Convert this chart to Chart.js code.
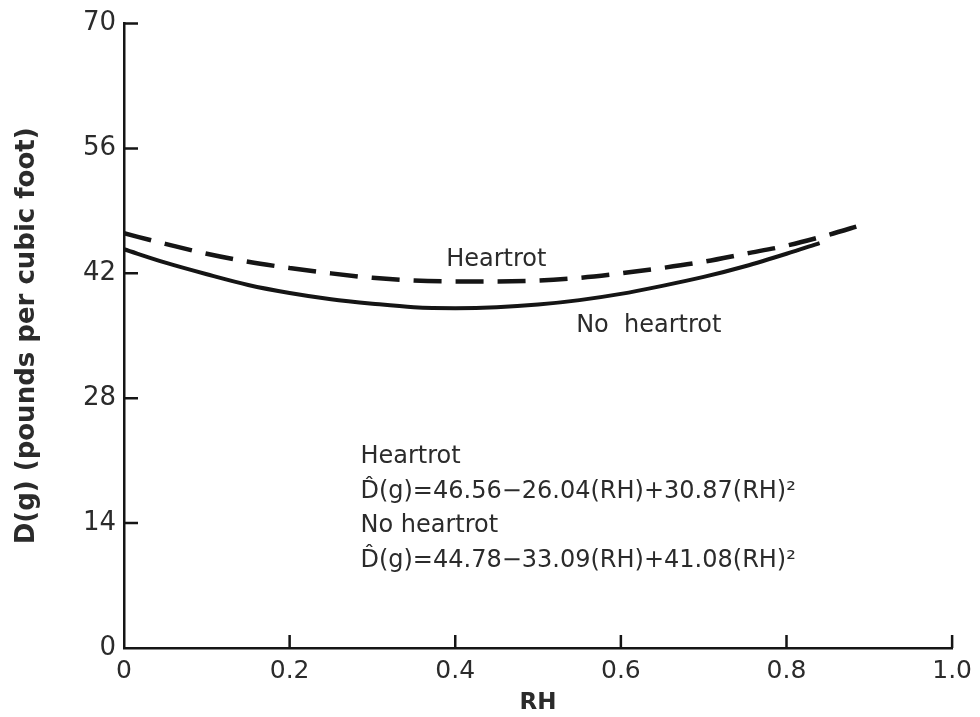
<!DOCTYPE html>
<html>
<head>
<meta charset="utf-8">
<title>D(g) vs RH</title>
<script src="https://cdn.jsdelivr.net/npm/chart.js@4.4.1/dist/chart.umd.min.js"></script>
<style>
  html, body { margin: 0; padding: 0; background: #fff; }
  #wrap { width: 980px; height: 717px; position: relative; }
</style>
</head>
<body>
<div id="wrap"><canvas id="chart"></canvas></div>
<script>
    // values
    var rhHeartrot = [0, 0.05, 0.1, 0.15, 0.2, 0.25, 0.3, 0.35, 0.4, 0.45, 0.5, 0.55, 0.6, 0.65, 0.7, 0.75, 0.8, 0.85, 0.89];
    var heartrot = [46.5, 45.3, 44.2, 43.3, 42.6, 42.0, 41.5, 41.2, 41.1, 41.1, 41.2, 41.5, 42.0, 42.6, 43.3, 44.2, 45.1, 46.3, 47.4];

    var rhNoHeartrot = [0, 0.05, 0.1, 0.15, 0.2, 0.25, 0.3, 0.35, 0.4, 0.45, 0.5, 0.55, 0.6, 0.65, 0.7, 0.75, 0.8, 0.84];
    var noHeartrot = [44.7, 43.2, 41.9, 40.7, 39.8, 39.1, 38.6, 38.2, 38.1, 38.2, 38.5, 39.0, 39.7, 40.6, 41.6, 42.8, 44.2, 45.4];

    var xTicks = [0, 0.2, 0.4, 0.6, 0.8, 1.0];
    var yTicks = [0, 14, 28, 42, 56, 70];

    // text placed in data units: [RH, D(g), text]
    var notes = [
        [0.389, 42.8, 'Heartrot'],
        [0.546, 35.45, 'No  heartrot'],
        [0.2855, 20.7, 'Heartrot'],
        [0.2855, 16.8, 'D\u0302(g)=46.56\u221226.04(RH)+30.87(RH)\u00b2'],
        [0.2855, 13.0, 'No heartrot'],
        [0.2855, 9.1, 'D\u0302(g)=44.78\u221233.09(RH)+41.08(RH)\u00b2']
    ];

    function toPoints(xs, ys) {
        return xs.map(function(x, i) { return { x: x, y: ys[i] }; });
    }

    var ink = '#151515';
    var textColor = '#2b2b2b';

    // tick marks point into the plot, so draw them ourselves
    var innerTicks = {
        id: 'innerTicks',
        afterDraw: function(chart) {
            var ctx = chart.ctx;
            var xs = chart.scales.x, ys = chart.scales.y;
            ctx.save();
            ctx.strokeStyle = ink;
            ctx.lineWidth = 2.5;
            ctx.beginPath();
            xTicks.forEach(function(v) {
                if (v === 0) return;
                var px = xs.getPixelForValue(v);
                ctx.moveTo(px, ys.bottom);
                ctx.lineTo(px, ys.bottom - 13);
            });
            yTicks.forEach(function(v) {
                if (v === 0) return;
                var py = ys.getPixelForValue(v);
                ctx.moveTo(xs.left, py);
                ctx.lineTo(xs.left + 14, py);
            });
            ctx.stroke();

            ctx.fillStyle = textColor;
            ctx.font = '24px "DejaVu Sans"';
            ctx.textAlign = 'left';
            ctx.textBaseline = 'alphabetic';
            notes.forEach(function(n) {
                ctx.fillText(n[2], xs.getPixelForValue(n[0]), ys.getPixelForValue(n[1]));
            });
            ctx.restore();
        }
    };

    var ctx = document.getElementById('chart').getContext('2d');
    var chart = new Chart(ctx, {
        type: 'scatter',
        data: {
            datasets: [{
                label: 'Heartrot',
                data: toPoints(rhHeartrot, heartrot),
                showLine: true,
                borderColor: ink,
                borderWidth: 4.5,
                borderDash: [28, 14],
                pointRadius: 0,
                cubicInterpolationMode: 'monotone',
                fill: false
            }, {
                label: 'No heartrot',
                data: toPoints(rhNoHeartrot, noHeartrot),
                showLine: true,
                borderColor: ink,
                borderWidth: 4,
                pointRadius: 0,
                cubicInterpolationMode: 'monotone',
                fill: false
            }]
        },
        options: {
            responsive: true,
            maintainAspectRatio: false,
            animation: false,
            layout: { padding: { left: 0, right: 26, top: 20, bottom: 0 } },
            plugins: {
                legend: { display: false },
                tooltip: { enabled: false }
            },
            scales: {
                x: {
                    type: 'linear',
                    min: 0,
                    max: 1,
                    afterBuildTicks: function(scale) {
                        scale.ticks = xTicks.map(function(v) { return { value: v }; });
                    },
                    afterFit: function(scale) { scale.height = 69; },
                    ticks: {
                        color: textColor,
                        font: { family: 'DejaVu Sans', size: 25 },
                        padding: 8,
                        maxRotation: 0,
                        callback: function(v) { return v === 0 ? '0' : Number(v).toFixed(1); }
                    },
                    grid: { drawOnChartArea: false, drawTicks: false },
                    border: { color: ink, width: 2.5 },
                    title: {
                        display: true,
                        text: 'RH',
                        color: textColor,
                        font: { family: 'DejaVu Sans', size: 23, weight: 'bold', lineHeight: 1.2 },
                        padding: { top: 0, bottom: 0 }
                    }
                },
                y: {
                    min: 0,
                    max: 70,
                    afterBuildTicks: function(scale) {
                        scale.ticks = yTicks.map(function(v) { return { value: v }; });
                    },
                    afterFit: function(scale) { scale.width = 124; },
                    ticks: {
                        color: textColor,
                        font: { family: 'DejaVu Sans', size: 26 },
                        padding: 8
                    },
                    grid: { drawOnChartArea: false, drawTicks: false },
                    border: { color: ink, width: 2.5 },
                    title: {
                        display: true,
                        text: 'D(g) (pounds per cubic foot)',
                        color: textColor,
                        font: { family: 'DejaVu Sans', size: 26, weight: 'bold', lineHeight: 1.2 },
                        padding: { top: 12, bottom: 0 }
                    }
                }
            }
        },
        plugins: [innerTicks]
    });
</script>
</body>
</html>
